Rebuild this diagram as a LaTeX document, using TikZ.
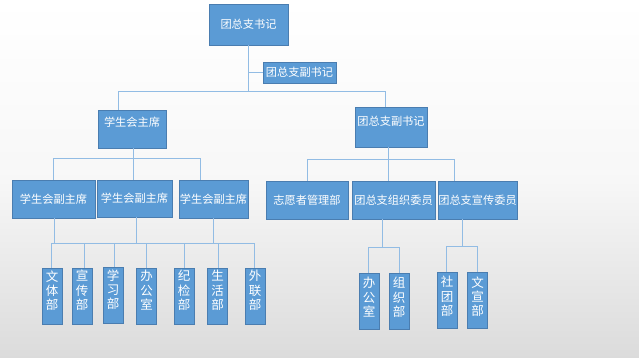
\documentclass[tikz,border=0pt]{standalone}
\usepackage{fontspec}
\setmainfont{Noto Sans CJK SC}
\definecolor{boxfill}{HTML}{5B9BD5}
\definecolor{boxline}{HTML}{4A7DB0}
\definecolor{connc}{HTML}{92BCE4}
\begin{document}
\begin{tikzpicture}[x=1pt,y=-1pt,
  box/.style={draw=boxline, line width=0.5pt, fill=boxfill, text=white, inner sep=0pt,
    font=\fontsize{11.2}{13}\selectfont},
  hbox/.style={box},
  vbox/.style={box, minimum width=20, minimum height=56, align=center,
    font=\fontsize{12.5}{14.3}\selectfont},
  conn/.style={draw=connc, line width=1pt}]
\shade[top color=white, bottom color=black!14, middle color=white!97!black] (0,0) rectangle (639,357);
\useasboundingbox (0,0) rectangle (639,357);

% level 0
\node[hbox, minimum width=79, minimum height=41] (top) at (248.5,24.5) {团总支书记};
\node[hbox, minimum width=73, minimum height=21] (sub) at (299.5,72.5) {团总支副书记};
% level 1
\node[hbox, minimum width=68, minimum height=38, text depth=14pt] (L1) at (132,129) {学生会主席};
\node[hbox, minimum width=72, minimum height=40, text depth=12pt] (R1) at (391,127) {团总支副书记};
% level 2
\node[hbox, minimum width=83, minimum height=38] (A1) at (53.5,199) {学生会副主席};
\node[hbox, minimum width=75, minimum height=37] (A2) at (134.5,198.5) {学生会副主席};
\node[hbox, minimum width=69, minimum height=38] (A3) at (213.5,199) {学生会副主席};
\node[hbox, minimum width=82, minimum height=38] (B1) at (307,200) {志愿者管理部};
\node[hbox, minimum width=83, minimum height=38] (B2) at (393.5,200) {团总支组织委员};
\node[hbox, minimum width=79, minimum height=38] (B3) at (477.5,200) {团总支宣传委员};
% level 3
\node[vbox, text depth=12pt] (c1) at (52,296) {文\\体\\部};
\node[vbox, text depth=12pt] (c2) at (82,296) {宣\\传\\部};
\node[vbox, text depth=12pt] (c3) at (113,295) {学\\习\\部};
\node[vbox, text depth=12pt] (c4) at (146.5,296) {办\\公\\室};
\node[vbox, text depth=12pt] (c5) at (184,296) {纪\\检\\部};
\node[vbox, text depth=12pt] (c6) at (217.5,296) {生\\活\\部};
\node[vbox, text depth=12pt] (c7) at (255,296) {外\\联\\部};
\node[vbox, text depth=8pt] (d1) at (369,301) {办\\公\\室};
\node[vbox, text depth=8pt] (d2) at (399,301) {组\\织\\部};
\node[vbox, text depth=8pt] (e1) at (447,300) {社\\团\\部};
\node[vbox, text depth=8pt] (e2) at (477.5,300) {文\\宣\\部};

% connectors level 0 -> 1
\coordinate (b1l) at (118,91);
\coordinate (b1r) at (385,91);
\draw[conn] (top.south) -- (top.south |- b1l);
\draw[conn] (b1l) -- (b1r);
\draw[conn] (b1l) -- (b1l |- L1.north);
\draw[conn] (b1r) -- (b1r |- R1.north);
\draw[conn] (sub.west) -- (sub.west -| top.south);

% L1 -> A
\coordinate (b2l) at (53,158);
\coordinate (b2r) at (200,158);
\coordinate (b2m) at (133,158);
\draw[conn] (b2m |- L1.south) -- (b2m);
\draw[conn] (b2l) -- (b2r);
\draw[conn] (b2l) -- (b2l |- A1.north);
\draw[conn] (b2m) -- (b2m |- A2.north);
\draw[conn] (b2r) -- (b2r |- A3.north);

% R1 -> B
\coordinate (b3l) at (307,159);
\coordinate (b3m) at (388,159);
\coordinate (b3r) at (454,159);
\draw[conn] (b3m |- R1.south) -- (b3m);
\draw[conn] (b3l) -- (b3r);
\draw[conn] (b3l) -- (b3l |- B1.north);
\draw[conn] (b3m) -- (b3m |- B2.north);
\draw[conn] (b3r) -- (b3r |- B3.north);

% A -> c
\coordinate (h1) at (54,243);
\coordinate (h2) at (136,243);
\coordinate (h3) at (213,243);
\draw[conn] (h1 |- A1.south) -- (h1);
\draw[conn] (h2 |- A2.south) -- (h2);
\draw[conn] (h3 |- A3.south) -- (h3);
\coordinate (hl) at (51,243);
\coordinate (hr) at (254,243);
\draw[conn] (hl) -- (hr);
\foreach \n/\x in {c1/51,c2/84,c3/114,c4/146,c5/184,c6/218,c7/254}{
  \draw[conn] (\x,243) -- (\x,0 |- \n.north);
}

% B2 -> d
\coordinate (g1) at (382,247);
\draw[conn] (g1 |- B2.south) -- (g1);
\draw[conn] (368,247) -- (399,247);
\draw[conn] (368,247) -- (368,0 |- d1.north);
\draw[conn] (399,247) -- (399,0 |- d2.north);

% B3 -> e
\coordinate (g2) at (462,246);
\draw[conn] (g2 |- B3.south) -- (g2);
\draw[conn] (446,246) -- (477,246);
\draw[conn] (446,246) -- (446,0 |- e1.north);
\draw[conn] (477,246) -- (477,0 |- e2.north);
\end{tikzpicture}
\end{document}
